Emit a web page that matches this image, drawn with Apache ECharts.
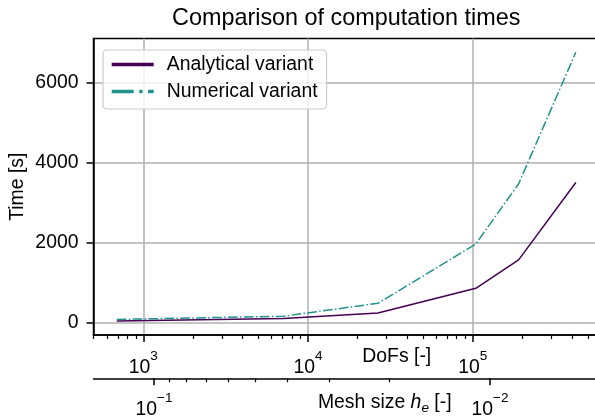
<!DOCTYPE html>
<html>
<head>
<meta charset="utf-8">
<script src="https://cdn.jsdelivr.net/npm/echarts@6/dist/echarts.min.js"></script>
<style>
    html, body { margin: 0; padding: 0; background: #fff; }
    #chart { width: 595px; height: 420px; }
</style>
</head>
<body>
<div id="chart"></div>
<script>
// degrees of freedom per refinement level and measured times [s]
const dofs = [690, 7100, 26600, 104500, 190000, 423000]
const analytical = [38, 105, 240, 860, 1570, 3510]
const numerical = [80, 160, 485, 1970, 3475, 6770]

// tick values
const dofsTicks = [1e3, 1e4, 1e5]
const dofsMinor = [500, 600, 700, 800, 900,
    2000, 3000, 4000, 5000, 6000, 7000, 8000, 9000,
    20000, 30000, 40000, 50000, 60000, 70000, 80000, 90000,
    200000, 300000, 400000, 500000]
const meshTicks = [0.1, 0.01]
const meshMinor = [0.09, 0.08, 0.07, 0.06, 0.05, 0.04, 0.03, 0.02]
const timeTicks = [0, 2000, 4000, 6000]

const FONT = '"Liberation Sans", Arial, Helvetica, sans-serif'
const BLACK = '#000'

const chart = echarts.init(document.getElementById('chart'))

// "10^n" with a raised exponent
const powLabel = v => {
    const e = Math.round(Math.log10(v))
    return '{b|10}{s|' + (e < 0 ? '\u2212' + (-e) : e) + '}'
}
const powRich = {
    b: { fontSize: 19.4, fontFamily: FONT, color: BLACK, lineHeight: 28, verticalAlign: 'bottom' },
    s: { fontSize: 13.6, fontFamily: FONT, color: BLACK, lineHeight: 8, verticalAlign: 'top' }
}

const axisLine = { show: true, onZero: false, lineStyle: { color: BLACK, width: 1.5 } }

const option = {
    animation: false,
    backgroundColor: '#fff',
    title: {
        text: 'Comparison of computation times',
        left: 172,
        top: 7,
        padding: 0,
        textStyle: { fontSize: 23.4, fontWeight: 'normal', color: BLACK, fontFamily: FONT }
    },
    legend: {
        orient: 'vertical',
        left: 103,
        top: 50,
        itemWidth: 42,
        itemHeight: 14,
        itemGap: 8,
        padding: [5, 9, 8, 7],
        selectedMode: false,
        backgroundColor: 'rgba(255,255,255,0.8)',
        borderColor: '#cccccc',
        borderWidth: 1.2,
        borderRadius: 4,
        itemStyle: { opacity: 0 },
        textStyle: { fontSize: 19.4, color: BLACK, fontFamily: FONT, padding: [0, 0, 0, 8] },
        data: [
            { name: 'Analytical variant', lineStyle: { width: 3.4 } },
            { name: 'Numerical variant', lineStyle: { width: 3.4, type: [22, 5.5, 3.4, 5.5] } }
        ]
    },
    grid: {
        left: 93.5,
        top: 38.5,
        right: -3,
        bottom: 85,
        show: true,
        borderColor: BLACK,
        borderWidth: 1.5,
        containLabel: false,
        outerBoundsMode: 'none'
    },
    xAxis: [
        {
            // DoFs, major ticks
            type: 'log',
            logBase: 10,
            position: 'bottom',
            min: 498.4,
            max: 576600,
            axisLine: axisLine,
            axisTick: { show: true, customValues: dofsTicks, length: 7, lineStyle: { color: BLACK, width: 1.5 } },
            axisLabel: { customValues: dofsTicks, formatter: powLabel, rich: powRich, margin: 14 },
            splitLine: { show: true, lineStyle: { color: '#b0b0b0', width: 1.5 } },
            name: 'DoFs [-]',
            nameLocation: 'middle',
            nameGap: 12,
            nameMoveOverlap: false,
            nameTextStyle: { fontSize: 19.4, color: BLACK, fontFamily: FONT, padding: [0, 0, 0, 102] }
        },
        {
            // DoFs, minor ticks
            type: 'log',
            logBase: 10,
            position: 'bottom',
            min: 498.4,
            max: 576600,
            axisLine: { show: false, onZero: false },
            axisTick: { show: true, customValues: dofsMinor, length: 4, lineStyle: { color: BLACK, width: 1.2 } },
            axisLabel: { show: false },
            splitLine: { show: false }
        },
        {
            // mesh size, major ticks
            type: 'log',
            logBase: 10,
            inverse: true,
            position: 'bottom',
            offset: 43.3,
            min: 0.004772,
            max: 0.1514,
            axisLine: axisLine,
            axisTick: { show: true, customValues: meshTicks, length: 7, lineStyle: { color: BLACK, width: 1.5 } },
            axisLabel: { customValues: meshTicks, formatter: powLabel, rich: powRich, margin: 13 },
            splitLine: { show: false },
            name: '{n|Mesh size }{i|h}{sub|e}{n| [-]}',
            nameLocation: 'middle',
            nameGap: 15,
            nameMoveOverlap: false,
            nameTextStyle: {
                padding: [0, 0, 0, 78],
                rich: {
                    n: { fontSize: 19.4, color: BLACK, fontFamily: FONT, lineHeight: 22, verticalAlign: 'top' },
                    i: { fontSize: 19.4, color: BLACK, fontFamily: FONT, fontStyle: 'italic', lineHeight: 22, verticalAlign: 'top' },
                    sub: { fontSize: 13.6, color: BLACK, fontFamily: FONT, fontStyle: 'italic', lineHeight: 10, verticalAlign: 'bottom' }
                }
            }
        },
        {
            // mesh size, minor ticks
            type: 'log',
            logBase: 10,
            inverse: true,
            position: 'bottom',
            offset: 43.3,
            min: 0.004772,
            max: 0.1514,
            axisLine: { show: false, onZero: false },
            axisTick: { show: true, customValues: meshMinor, length: 4, lineStyle: { color: BLACK, width: 1.2 } },
            axisLabel: { show: false },
            splitLine: { show: false }
        }
    ],
    yAxis: {
        type: 'value',
        min: -310,
        max: 7115,
        axisLine: axisLine,
        axisTick: { show: true, customValues: timeTicks, length: 7, lineStyle: { color: BLACK, width: 1.5 } },
        axisLabel: { customValues: timeTicks, formatter: v => String(v), fontSize: 19.4, color: BLACK, fontFamily: FONT, margin: 15 },
        splitLine: { show: true, lineStyle: { color: '#b0b0b0', width: 1.5 } },
        name: 'Time [s]',
        nameLocation: 'middle',
        nameRotate: 90,
        nameGap: 66,
        nameMoveOverlap: false,
        nameTextStyle: { fontSize: 19.4, color: BLACK, fontFamily: FONT }
    },
    series: [
        {
            name: 'Analytical variant',
            type: 'line',
            xAxisIndex: 0,
            symbol: 'none',
            color: '#440154',
            lineStyle: { width: 1.5, color: '#440154' },
            data: dofs.map((d, i) => [d, analytical[i]])
        },
        {
            name: 'Numerical variant',
            type: 'line',
            xAxisIndex: 0,
            symbol: 'none',
            color: '#21918c',
            lineStyle: { width: 1.5, color: '#21918c', type: [9.6, 2.4, 1.5, 2.4] },
            data: dofs.map((d, i) => [d, numerical[i]])
        }
    ]
}

chart.setOption(option)
</script>
</body>
</html>
